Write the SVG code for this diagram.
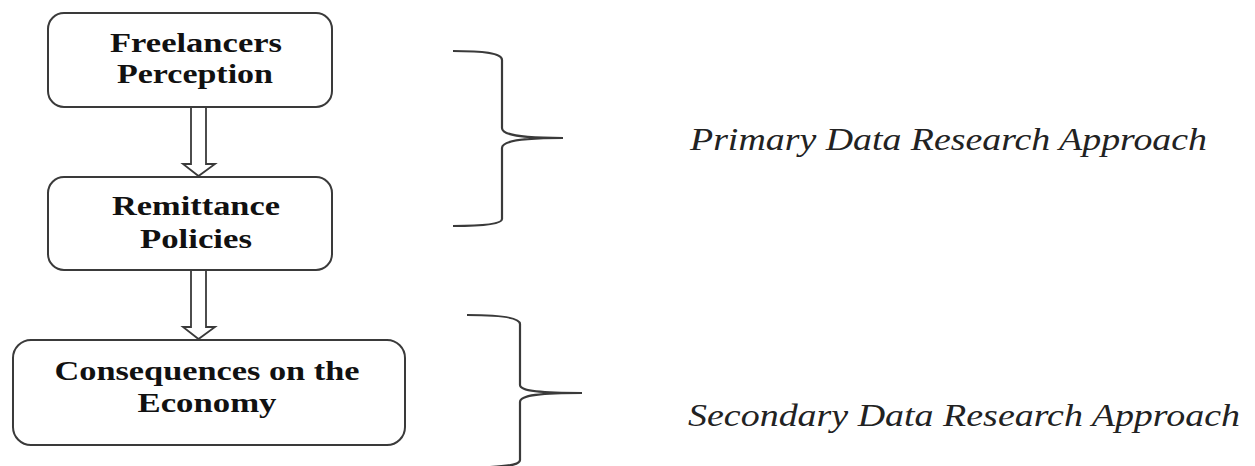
<svg xmlns="http://www.w3.org/2000/svg" width="1255" height="466" viewBox="0 0 1255 466">
<style>
.box{fill:#fff;stroke:#3a3a3a;stroke-width:2}
.t{font-family:"Liberation Serif","Times New Roman",serif;font-weight:bold;font-size:28px;fill:#111;text-anchor:middle}
.it{font-family:"Liberation Serif","Times New Roman",serif;font-style:italic;font-size:31px;fill:#222}
.arr{fill:#fff;stroke:#3a3a3a;stroke-width:1.8;stroke-linejoin:miter}
.br{fill:none;stroke:#3a3a3a;stroke-width:2.2}
</style>
<rect width="1255" height="466" fill="#fff"/>
<g id="connectors">
<polygon class="arr" points="191,107 206,107 206,164 215,164 198.5,176 183,164 191,164"/>
<polygon class="arr" points="191,270 206,270 206,327 215,327 198.5,339 183,327 191,327"/>
</g>
<g id="node-freelancers">
<rect class="box" x="48" y="13" width="284" height="94" rx="16"/>
<text class="t" x="196" y="52" textLength="172" lengthAdjust="spacingAndGlyphs">Freelancers</text>
<text class="t" x="195" y="83" textLength="156" lengthAdjust="spacingAndGlyphs">Perception</text>
</g>
<g id="node-remittance">
<rect class="box" x="48" y="177" width="284" height="93" rx="16"/>
<text class="t" x="196" y="215" textLength="168" lengthAdjust="spacingAndGlyphs">Remittance</text>
<text class="t" x="196" y="248" textLength="112" lengthAdjust="spacingAndGlyphs">Policies</text>
</g>
<g id="node-consequences">
<rect class="box" x="13" y="340" width="392" height="105" rx="18"/>
<text class="t" x="207" y="380" textLength="305" lengthAdjust="spacingAndGlyphs">Consequences on the</text>
<text class="t" x="207" y="412" textLength="139" lengthAdjust="spacingAndGlyphs">Economy</text>
</g>
<g id="brace-primary">
<path class="br" d="M453,51 C482,51 502,53 502,60 L502,128 C502,135 520,138 563,138 C520,138 502,141 502,148 L502,219 C502,224 482,226 453,226"/>
<text class="it" x="690" y="150" textLength="517" lengthAdjust="spacingAndGlyphs">Primary Data Research Approach</text>
</g>
<g id="brace-secondary">
<path class="br" d="M467,315 C497,315 520,317 520,324 L520,385 C520,391 540,393 582,393 C540,393 520,395 520,402 L520,460 C520,464 512,466 490,467"/>
<text class="it" x="688" y="426" textLength="552" lengthAdjust="spacingAndGlyphs">Secondary Data Research Approach</text>
</g>
</svg>
